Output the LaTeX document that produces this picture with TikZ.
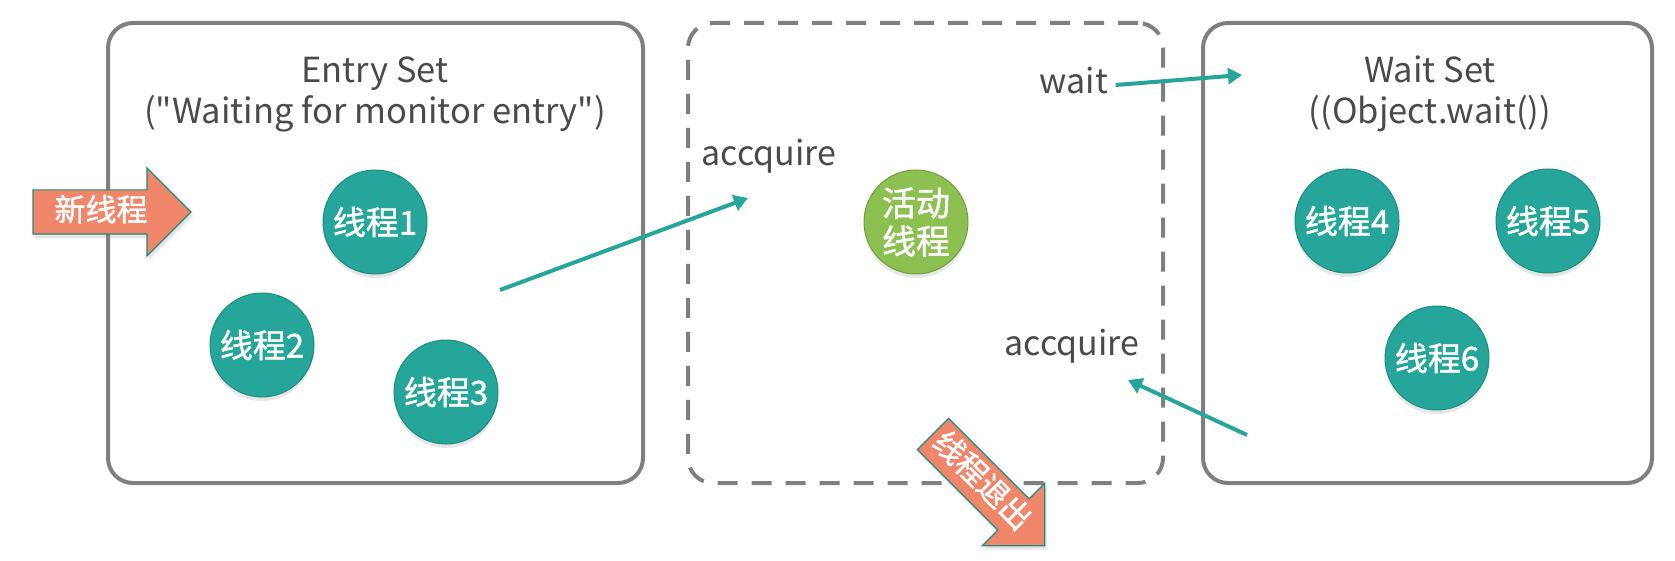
\documentclass[tikz,border=0pt]{standalone}
\usepackage{fontspec}
\newfontfamily\hanfont{Noto Sans CJK SC}
\newfontfamily\hanfat{Noto Sans CJK SC}[FakeBold=1.3]
\usepackage{xcolor}
\usetikzlibrary{arrows.meta, positioning, shapes.arrows, shadows}

\definecolor{tealfill}{HTML}{26A69A}
\definecolor{tealedge}{HTML}{1E8C80}
\definecolor{leaffill}{HTML}{8CC152}
\definecolor{leafedge}{HTML}{6FA03C}
\definecolor{salmon}{HTML}{F0866A}
\definecolor{boxgray}{HTML}{7F7F7F}
\definecolor{textgray}{HTML}{4A4A4A}

\tikzset{
  setbox/.style={draw=boxgray, line width=4pt, rounded corners=25pt, inner sep=0pt},
  ownerbox/.style={setbox, dash pattern=on 20pt off 14pt},
  settitle/.style={text=textgray, align=center, font=\hanfont\fontsize{34.5}{41}\selectfont},
  flowlabel/.style={text=textgray, font=\hanfont\fontsize{34}{38}\selectfont},
  thread/.style={circle, fill=tealfill, draw=tealedge, line width=1pt,
    minimum size=104pt, inner sep=0pt, text=white,
    font=\hanfat\fontsize{33}{36}\selectfont,
    drop shadow={opacity=0.2, shadow xshift=0pt, shadow yshift=-4pt}},
  active/.style={thread, fill=leaffill, draw=leafedge, align=center,
    font=\hanfat\fontsize{34}{38}\selectfont},
  bigarrow/.style={single arrow, fill=salmon, draw=tealedge, line width=1.2pt,
    single arrow head extend=22pt, minimum height=158pt, minimum width=0pt,
    text height=24pt, text depth=6pt, inner ysep=6.5pt, text=white,
    font=\hanfat\fontsize{31}{33}\selectfont,
    drop shadow={opacity=0.2, shadow xshift=2pt, shadow yshift=-4pt}},
  flow/.style={draw=tealfill, line width=4pt,
    -{Triangle[length=14pt, width=16pt]}},
}

\begin{document}
\begin{tikzpicture}[x=1pt, y=-1pt]
  \useasboundingbox (0,0) rectangle (1675,561);

  % the three sets
  \node[setbox, minimum width=535pt, minimum height=460pt] (entry) at (375.5,253) {};
  \node[ownerbox, minimum width=475pt, minimum height=460pt] (owner) at (925.5,253) {};
  \node[setbox, minimum width=449pt, minimum height=460pt] (waitset) at (1427.5,253) {};

  \node[settitle] (entrytitle) at (375,94) {Entry Set\\("Waiting for monitor entry")};
  \node[settitle] (waittitle) at (1430,94) {Wait Set\\((Object.wait())};

  % threads
  \node[thread] (t1) at (375,222) {线程1};
  \node[thread] (t2) at (262,345) {线程2};
  \node[thread] (t3) at (446,392) {线程3};
  \node[thread] (t4) at (1347,221) {线程4};
  \node[thread] (t5) at (1548,221) {线程5};
  \node[thread] (t6) at (1437,358) {线程6};
  \node[active] (owning) at (916,222) {活动\\线程};

  % new thread / thread exit
  \node[bigarrow] (newthread) at (101,212) {新线程};
  \node[bigarrow, rotate=-45] (exit) at (981,482) {线程退出};

  % labels
  \node[flowlabel] (acqtop) at (769,156) {accquire};
  \node[flowlabel] (wait) at (1074,81) {wait};
  \node[flowlabel] (acqlow) at (1072,346) {accquire};

  % connectors
  \coordinate (leave) at (500,290);
  \coordinate (enter) at (748,198);
  \coordinate (waitin) at (1242,75);
  \coordinate (wakeup) at (1247,435);
  \coordinate (reenter) at (1128,380);
  \draw[flow] (leave) -- (enter);
  \draw[flow] (wait.east) ++(4,4) -- (waitin);
  \draw[flow] (wakeup) -- (reenter);
\end{tikzpicture}
\end{document}
